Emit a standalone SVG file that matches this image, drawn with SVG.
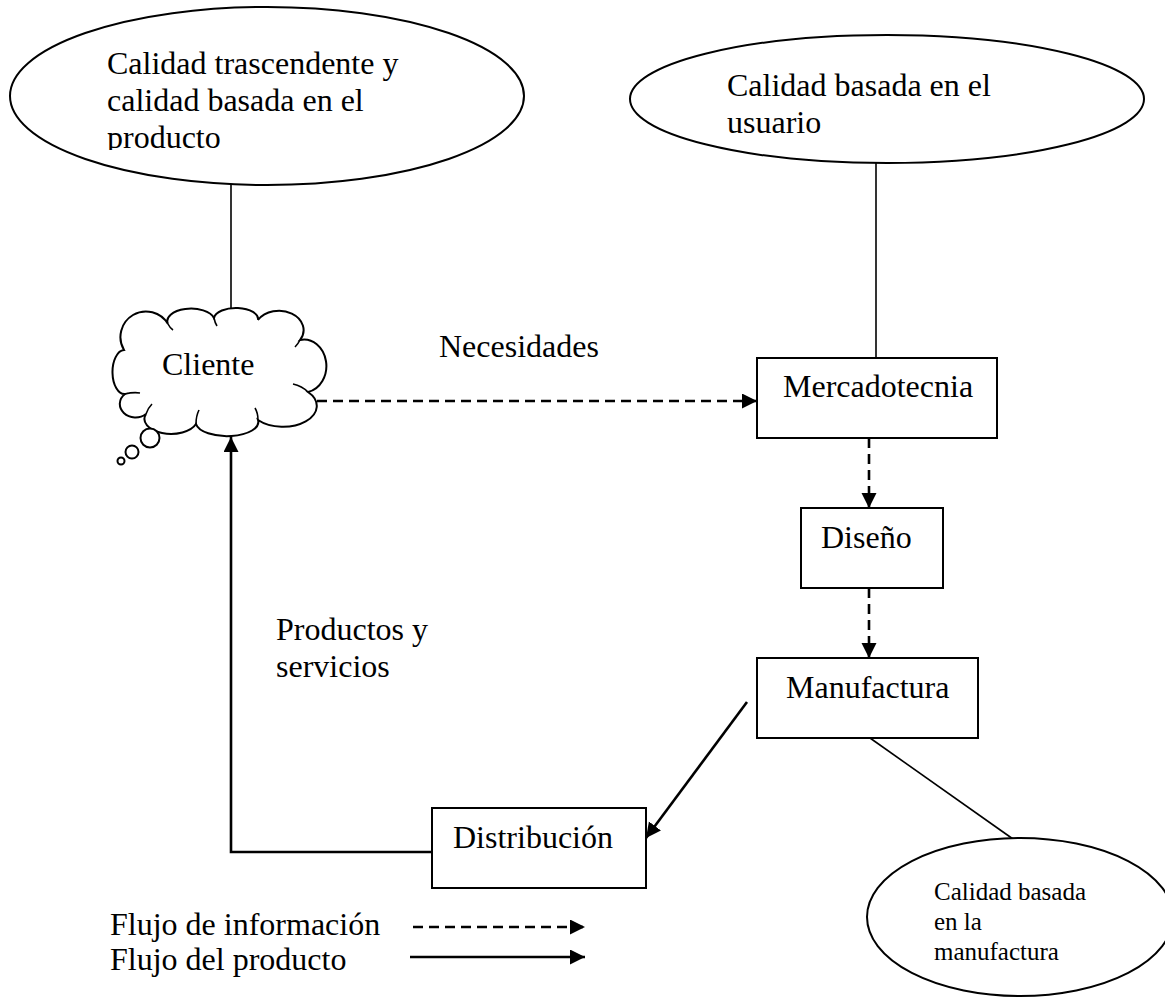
<svg xmlns="http://www.w3.org/2000/svg" width="1165" height="998" viewBox="0 0 1165 998">
<style>
text{font-family:"Liberation Serif","Times New Roman",serif;fill:#000;}
.t{font-size:32px;}
.s{font-size:25px;}
.shape{fill:#fff;stroke:#000;stroke-width:2;}
.ln{fill:none;stroke:#000;stroke-width:1.6;}
.sol{fill:none;stroke:#000;stroke-width:2.6;}
.dash{fill:none;stroke:#000;stroke-width:2.6;stroke-dasharray:10 6;}
</style>
<defs>
<marker id="ah" markerUnits="userSpaceOnUse" markerWidth="16" markerHeight="16" refX="15" refY="7.5" orient="auto">
<path d="M0,0 L15,7.5 L0,15 z" fill="#000"/>
</marker>
<clipPath id="c1"><rect x="0" y="0" width="540" height="150"/></clipPath>
</defs>
<rect width="1165" height="998" fill="#fff"/>
<g id="connectors">
<line class="ln" x1="231" y1="185" x2="231" y2="309"/>
<line class="ln" x1="876" y1="163" x2="876" y2="358"/>
<line class="ln" x1="870" y1="738" x2="1013" y2="839"/>
<line class="dash" x1="301" y1="401" x2="757" y2="401" marker-end="url(#ah)"/>
<line class="dash" x1="869" y1="438" x2="869" y2="508" marker-end="url(#ah)"/>
<line class="dash" x1="869" y1="588" x2="869" y2="658" marker-end="url(#ah)"/>
<line class="sol" x1="747" y1="702" x2="646" y2="838" marker-end="url(#ah)"/>
<path class="sol" d="M432 852 H231 V437" marker-end="url(#ah)"/>
</g>
<g id="n-trascendente">
<ellipse class="shape" cx="267" cy="96" rx="257" ry="89"/>
<g clip-path="url(#c1)">
<text class="t" x="107" y="74">Calidad trascendente y</text>
<text class="t" x="107" y="111">calidad basada en el</text>
<text class="t" x="107" y="148">producto</text>
</g>
</g>
<g id="n-usuario">
<ellipse class="shape" cx="887" cy="99" rx="257" ry="64"/>
<text class="t" x="727" y="96">Calidad basada en el</text>
<text class="t" x="727" y="133">usuario</text>
</g>
<g id="n-cliente">
<path class="shape" d="M125 394 A12 22 0 0 1 124 350 A25 25 0 0 1 168 324 A23 12 0 0 1 214 318 A22 11 0 0 1 258 320 A23 18 0 0 1 300 340 A22 26 0 0 1 308 392 A26 16 0 0 1 258 420 A31 14 0 0 1 196 424 A25 14 0 0 1 146 414 A14 12 0 0 1 125 394 Z"/>
<path class="ln" d="M125 394 Q133 392 140 393 M146 414 Q148 408 152 404 M196 424 Q196 416 199 410 M258 420 Q258 413 255 408 M308 392 Q302 386 293 384 M300 340 Q298 344 295 347 M214 318 Q215 323 217 326 M168 324 Q170 328 173 330"/>
<circle class="shape" cx="150" cy="438" r="9.5"/>
<circle class="shape" cx="132" cy="452" r="6.5"/>
<circle class="shape" cx="121" cy="461" r="3.5"/>
<text class="t" x="162" y="375">Cliente</text>
</g>
<g id="n-mercadotecnia">
<rect class="shape" x="757" y="358" width="240" height="80"/>
<text class="t" x="783" y="397">Mercadotecnia</text>
</g>
<g id="n-diseno">
<rect class="shape" x="801" y="508" width="142" height="80"/>
<text class="t" x="821" y="548">Diseño</text>
</g>
<g id="n-manufactura">
<rect class="shape" x="757" y="658" width="221" height="80"/>
<text class="t" x="786" y="698">Manufactura</text>
</g>
<g id="n-distribucion">
<rect class="shape" x="432" y="808" width="214" height="80"/>
<text class="t" x="453" y="848">Distribución</text>
</g>
<g id="n-manuf-quality">
<ellipse class="shape" cx="1020" cy="917" rx="153" ry="79"/>
<text class="s" x="934" y="900">Calidad basada</text>
<text class="s" x="934" y="930">en la</text>
<text class="s" x="934" y="960">manufactura</text>
</g>
<g id="labels">
<text class="t" x="439" y="357">Necesidades</text>
<text class="t" x="276" y="640">Productos y</text>
<text class="t" x="276" y="677">servicios</text>
</g>
<g id="legend">
<text class="t" x="110" y="935">Flujo de información</text>
<text class="t" x="110" y="970">Flujo del producto</text>
<line class="dash" x1="413" y1="927" x2="585" y2="927" marker-end="url(#ah)"/>
<line class="sol" x1="410" y1="957" x2="585" y2="957" marker-end="url(#ah)"/>
</g>
</svg>
